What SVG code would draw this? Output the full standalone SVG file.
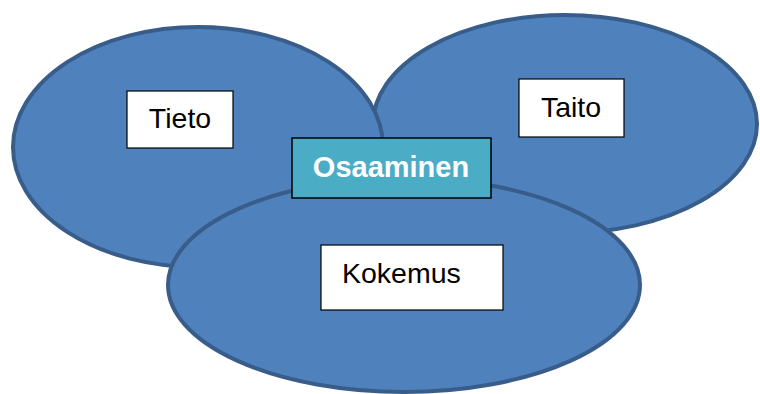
<svg xmlns="http://www.w3.org/2000/svg" width="760" height="394" viewBox="0 0 760 394">
  <style>
    .blob { fill: #4f81bd; stroke: #385d8a; stroke-width: 4; }
    .box { fill: #ffffff; stroke: #000000; stroke-width: 1.2; }
    .core { fill: #4bacc6; stroke: #000000; stroke-width: 1.5; }
    .lbl { font-family: "Liberation Sans", Arial, sans-serif; font-size: 28.5px; fill: #000000; }
    .corelbl { font-family: "Liberation Sans", Arial, sans-serif; font-size: 29px; font-weight: bold; fill: #ffffff; }
  </style>

  <!-- circles of the model, back to front -->
  <g id="taito">
    <ellipse class="blob" cx="565" cy="124" rx="192" ry="109"/>
  </g>
  <g id="tieto">
    <ellipse class="blob" cx="198" cy="147" rx="185" ry="120"/>
  </g>
  <g id="kokemus">
    <ellipse class="blob" cx="404" cy="285" rx="236" ry="107"/>
  </g>

  <!-- label boxes -->
  <g id="tieto-label">
    <rect class="box" x="127" y="91" width="106" height="57"/>
    <text class="lbl" x="180" y="128" text-anchor="middle">Tieto</text>
  </g>
  <g id="taito-label">
    <rect class="box" x="519" y="79" width="105" height="58"/>
    <text class="lbl" x="571" y="117" text-anchor="middle">Taito</text>
  </g>
  <g id="kokemus-label">
    <rect class="box" x="321" y="245" width="182" height="65"/>
    <text class="lbl" x="342" y="283">Kokemus</text>
  </g>
  <g id="osaaminen">
    <rect class="core" x="292" y="138" width="199" height="60"/>
    <text class="corelbl" x="391" y="177" text-anchor="middle">Osaaminen</text>
  </g>

  <g id="connectors"/>
</svg>
